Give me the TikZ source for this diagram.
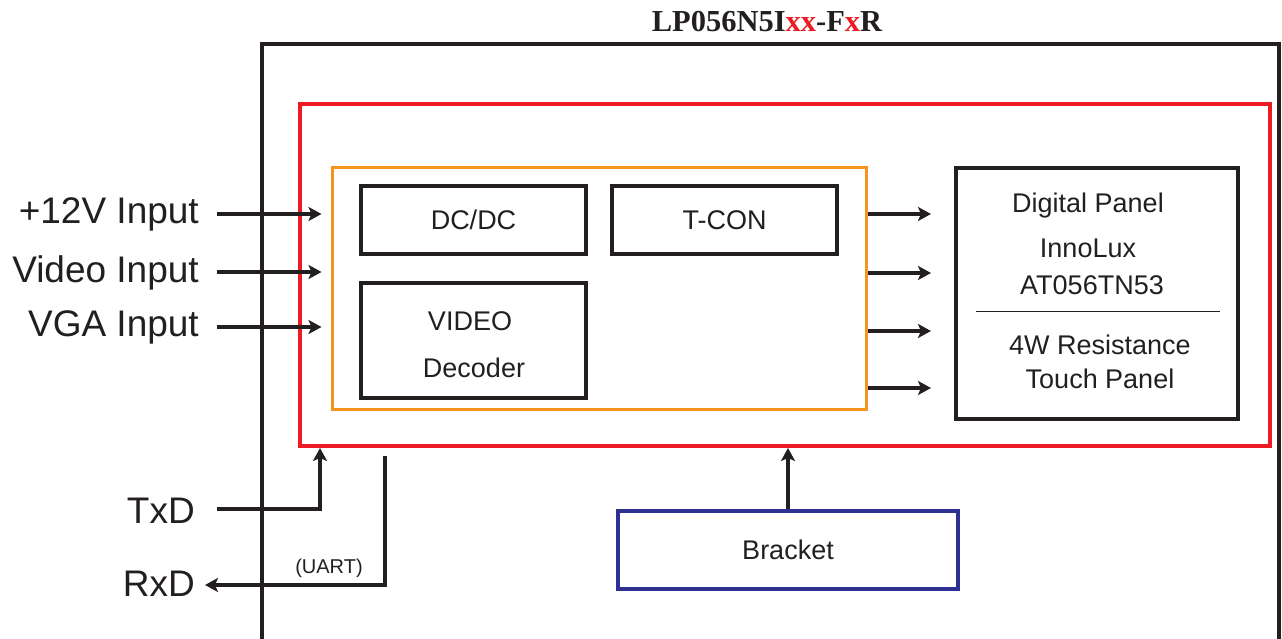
\documentclass[tikz,border=0pt]{standalone}
\usepackage{fontspec}
\setmainfont{Liberation Sans}
\newfontfamily\titlefont{Liberation Serif}
\usetikzlibrary{arrows.meta,calc}
\definecolor{ink}{HTML}{231F20}
\definecolor{modred}{HTML}{ED1C24}
\definecolor{coreorange}{HTML}{F7941D}
\definecolor{bracketblue}{HTML}{2E3192}

\begin{document}
\begin{tikzpicture}[x=1pt, y=-1pt, color=ink,
    blk/.style={draw=ink, line width=4pt, inner sep=0pt, font=\fontsize{27}{47}\selectfont},
    lbl/.style={inner sep=0pt, font=\fontsize{37}{44}\selectfont},
    txt/.style={inner sep=0pt, anchor=base, font=\fontsize{27}{32}\selectfont},
    arr/.style={line width=4pt, -{Stealth[length=13pt, width=14pt, inset=3pt]}}]

    \useasboundingbox (0,0) rectangle (1282,639);

    % title and outer frame
    \node [anchor=base, inner sep=0pt, font=\titlefont\bfseries\fontsize{30.5}{36}\selectfont] (title) at (767,32)
        {LP056N5I\textcolor{modred}{xx}-F\textcolor{modred}{x}R};
    \draw [line width=4pt] (262,642) -- (262,44) -- (1279,44) -- (1279,642);

    % module and core board
    \node [draw=modred, line width=4pt, minimum width=970, minimum height=342] (module) at (785,275) {};
    \node [draw=coreorange, line width=3pt, minimum width=534, minimum height=241] (core) at (599,288.5) {};

    \node [blk, minimum width=225, minimum height=68] (dcdc) at (473.5,220) {DC/DC};
    \node [blk, minimum width=225, minimum height=68] (tcon) at (724.5,220) {T-CON};
    \node [blk, minimum width=225, minimum height=115] (video) at (473.5,340.5) {};
    \node [txt] (videotop) at (470,330) {VIDEO};
    \node [txt] (videobot) at (474,377) {Decoder};

    % panel
    \node [blk, minimum width=282, minimum height=251] (panel) at (1097,293.5) {};
    \node [txt] (pnlname) at (1088,212) {Digital Panel};
    \node [txt] (pnlmaker) at (1088,257) {InnoLux};
    \node [txt] (pnlmodel) at (1092,294) {AT056TN53};
    \draw [line width=1pt] ($(panel.west)+(22,17.5)$) -- ($(panel.east)+(-20,17.5)$);
    \node [txt] (touch1) at (1100,354) {4W Resistance};
    \node [txt] (touch2) at (1100,388) {Touch Panel};

    % bracket
    \node [draw=bracketblue, line width=3.5pt, minimum width=340, minimum height=78,
        font=\fontsize{27}{32}\selectfont] (bracket) at (788,550) {Bracket};
    \draw [arr] (bracket.north) -- (bracket.north |- module.south);

    % inputs
    \foreach \n/\t/\y/\d in {v12/+12V Input/223/9, vid/Video Input/282/10, vga/VGA Input/336/9} {
        \node [lbl, anchor=base east] (\n) at (199,\y) {\t};
        \draw [arr] ($(\n.base east)+(18,-\d)$) -- ($(core.west |- \n.base east)+(-9,-\d)$);
    }

    % outputs to panel
    \foreach \y in {214,273,331,388}
        \draw [arr] (core.east |- 0,\y) -- ($(panel.west |- 0,\y)+(-23,0)$);

    % uart
    \node [lbl, anchor=base east] (txd) at (195,523) {TxD};
    \node [lbl, anchor=base east] (rxd) at (195,596) {RxD};
    \node [inner sep=0pt, anchor=base, font=\fontsize{20}{24}\selectfont] (uart) at (329,573) {(UART)};
    \draw [arr] ($(txd.base east)+(22,-14)$) -| ($(module.south west)+(22,0)$);
    \draw [arr] ($(module.south west)+(87,8)$) |- ($(rxd.base east)+(10,-11)$);

\end{tikzpicture}
\end{document}
